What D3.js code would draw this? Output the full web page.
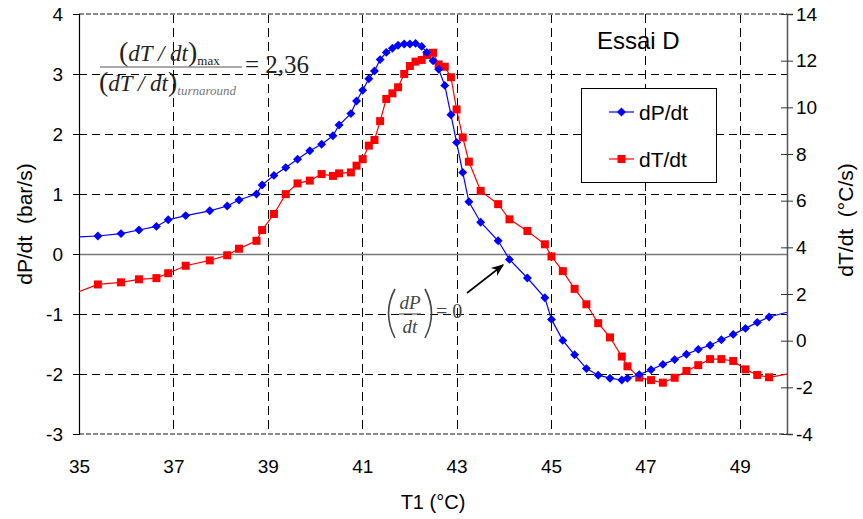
<!DOCTYPE html>
<html><head><meta charset="utf-8">
<script src="https://cdn.jsdelivr.net/npm/d3@7"></script>
<style>body{margin:0;background:#fff}svg{display:block}</style>
</head><body>
<svg id="c" width="863" height="519"></svg>
<script>
// ---- data ----
const T1 = [34.9, 35.40, 35.89, 36.27, 36.64, 36.89, 37.26, 37.77, 38.14, 38.39, 38.76, 38.88, 39.13, 39.38, 39.63, 39.89, 40.14, 40.38, 40.51, 40.76, 40.88, 41.01, 41.14, 41.26, 41.38, 41.51, 41.64, 41.76, 41.89, 42.01, 42.13, 42.26, 42.37, 42.50, 42.62, 42.75, 42.88, 43.00, 43.13, 43.26, 43.51, 43.88, 44.12, 44.50, 44.87, 45.01, 45.25, 45.50, 45.75, 46.00, 46.25, 46.50, 46.62, 46.87, 47.12, 47.37, 47.62, 47.87, 48.12, 48.37, 48.61, 48.86, 49.12, 49.37, 49.62, 50.1];
const dPdt = [0.28, 0.30, 0.34, 0.40, 0.46, 0.57, 0.64, 0.72, 0.80, 0.90, 1.00, 1.15, 1.31, 1.44, 1.58, 1.72, 1.83, 1.97, 2.15, 2.34, 2.55, 2.73, 2.92, 3.05, 3.24, 3.36, 3.43, 3.48, 3.50, 3.50, 3.51, 3.46, 3.36, 3.22, 3.08, 2.81, 2.32, 1.86, 1.36, 0.87, 0.53, 0.22, -0.09, -0.40, -0.73, -1.09, -1.44, -1.68, -1.91, -2.02, -2.07, -2.10, -2.07, -2.01, -1.93, -1.84, -1.76, -1.67, -1.59, -1.52, -1.43, -1.34, -1.24, -1.14, -1.05, -0.95];
const dTdt = [2.02, 2.41, 2.50, 2.63, 2.68, 2.89, 3.21, 3.44, 3.66, 3.94, 4.28, 4.74, 5.43, 6.28, 6.74, 6.86, 7.14, 7.06, 7.17, 7.21, 7.50, 7.78, 8.36, 8.60, 9.41, 10.36, 10.60, 10.86, 11.43, 11.77, 11.96, 12.03, 12.24, 12.34, 11.84, 11.74, 11.29, 9.91, 8.71, 7.67, 6.42, 5.85, 5.20, 4.70, 4.13, 3.61, 2.98, 2.22, 1.56, 0.75, 0.14, -0.68, -1.10, -1.58, -1.69, -1.80, -1.59, -1.30, -1.05, -0.79, -0.79, -0.87, -1.23, -1.47, -1.57, -1.40];
const xTicks = [35, 37, 39, 41, 43, 45, 47, 49];
const yLeftTicks = [-3, -2, -1, 0, 1, 2, 3, 4];
const yRightTicks = [-4, -2, 0, 2, 4, 6, 8, 10, 12, 14];
const seriesNames = ["dP/dt", "dT/dt"];
const xTitle = "T1 (°C)";
const yLeftTitle = "dP/dt  (bar/s)";
const yRightTitle = "dT/dt  (°C/s)";
const chartNote = "Essai D";

// ---- layout ----
const L = 79, R = 787, Tp = 14, B = 434;
const FONT = "'Liberation Sans', Arial, sans-serif";
const SERIF = "'Liberation Serif', 'Times New Roman', serif";
const svg = d3.select("#c");
const x = d3.scaleLinear().domain([35, 50]).range([L, R]);
const yL = d3.scaleLinear().domain([-3, 4]).range([B, Tp]);
const yR = d3.scaleLinear().domain([-4, 14]).range([B, Tp]);
const fmt = d => String(d);

svg.append("defs").append("clipPath").attr("id", "clip")
  .append("rect").attr("x", L).attr("y", Tp).attr("width", R - L).attr("height", B - Tp);

// grid
const grid = svg.append("g");
grid.selectAll(".vg").data(xTicks.filter(d => d > 35)).join("line")
  .attr("x1", d => Math.round(x(d)) + 0.5).attr("x2", d => Math.round(x(d)) + 0.5)
  .attr("y1", Tp).attr("y2", B)
  .attr("stroke", "#000").attr("stroke-dasharray", "9,5").attr("stroke-width", 1);
grid.selectAll(".hg").data(yLeftTicks.filter(d => d > -3 && d < 4 && d !== 0)).join("line")
  .attr("x1", L).attr("x2", R)
  .attr("y1", d => Math.round(yL(d)) + 0.5).attr("y2", d => Math.round(yL(d)) + 0.5)
  .attr("stroke", "#000").attr("stroke-dasharray", "8,5").attr("stroke-width", 1);
[4, -3].forEach(v => {
  grid.append("line").attr("x1", L).attr("x2", R)
    .attr("y1", yL(v)).attr("y2", yL(v))
    .attr("stroke", "#8a8a8a").attr("stroke-width", 2).attr("stroke-dasharray", "5,2");
});
grid.append("line").attr("x1", L).attr("x2", R)
  .attr("y1", Math.round(yL(0)) + 0.5).attr("y2", Math.round(yL(0)) + 0.5)
  .attr("stroke", "#777").attr("stroke-width", 1.5);

// axes
const axL = svg.append("g").attr("transform", `translate(${L},0)`)
  .call(d3.axisLeft(yL).tickValues(yLeftTicks).tickSize(6).tickPadding(10).tickFormat(fmt));
axL.select(".domain").attr("stroke", "#000").attr("stroke-width", 1.2);
axL.selectAll("text").attr("font-family", FONT).attr("font-size", 19).attr("fill", "#000");

const axR = svg.append("g").attr("transform", `translate(${R},0)`)
  .call(d3.axisRight(yR).tickValues(yRightTicks).tickSize(6).tickPadding(3).tickFormat(fmt));
axR.select(".domain").attr("stroke", "#555").attr("stroke-width", 1.5);
axR.selectAll(".tick line").attr("x1", -6).attr("stroke", "#333");
axR.selectAll("text").attr("font-family", FONT).attr("font-size", 19).attr("fill", "#000");

const axB = svg.append("g").attr("transform", `translate(0,${B})`)
  .call(d3.axisBottom(x).tickValues(xTicks).tickSize(0).tickPadding(26).tickFormat(fmt));
axB.select(".domain").remove();
axB.selectAll("text").attr("font-family", FONT).attr("font-size", 19).attr("fill", "#000");

// titles
svg.append("text").attr("x", 433).attr("y", 509).attr("text-anchor", "middle")
  .attr("font-family", FONT).attr("font-size", 20).text(xTitle);
svg.append("text").attr("transform", "translate(32,224) rotate(-90)").attr("text-anchor", "middle")
  .attr("font-family", FONT).attr("font-size", 21).style("white-space", "pre").text(yLeftTitle);
svg.append("text").attr("transform", "translate(853,220) rotate(-90)").attr("text-anchor", "middle")
  .attr("font-family", FONT).attr("font-size", 21).style("white-space", "pre").text(yRightTitle);
svg.append("text").attr("x", 597).attr("y", 49)
  .attr("font-family", FONT).attr("font-size", 24).text(chartNote);

// series
const plot = svg.append("g").attr("clip-path", "url(#clip)");
const blueData = T1.map((t, i) => [t, dPdt[i]]);
const redData = T1.map((t, i) => [t, dTdt[i]]);
plot.append("path").datum(blueData)
  .attr("d", d3.line().x(d => x(d[0])).y(d => yL(d[1])))
  .attr("fill", "none").attr("stroke", "#0000ff").attr("stroke-width", 1.2);
plot.append("path").datum(redData)
  .attr("d", d3.line().x(d => x(d[0])).y(d => yR(d[1])))
  .attr("fill", "none").attr("stroke", "#ff0000").attr("stroke-width", 1.2);
const sq = d3.symbol().type(d3.symbolSquare).size(64);
const dm = d3.symbol().type(d3.symbolSquare).size(40);
plot.selectAll(".rm").data(redData).join("path")
  .attr("transform", d => `translate(${x(d[0])},${yR(d[1])})`)
  .attr("d", sq).attr("fill", "#ff0000");
plot.selectAll(".bm").data(blueData).join("path")
  .attr("transform", d => `translate(${x(d[0])},${yL(d[1])}) rotate(45)`)
  .attr("d", dm).attr("fill", "#0000ff");

// legend
const lg = svg.append("g");
lg.append("rect").attr("x", 581.5).attr("y", 88.5).attr("width", 135).attr("height", 94)
  .attr("fill", "#fff").attr("stroke", "#000").attr("stroke-width", 1);
const legendItems = [
  { name: seriesNames[0], color: "#0000ff", sym: dm, rot: 45, y: 112 },
  { name: seriesNames[1], color: "#ff0000", sym: sq, rot: 0, y: 159 }
];
legendItems.forEach(it => {
  lg.append("line").attr("x1", 609).attr("x2", 634).attr("y1", it.y).attr("y2", it.y)
    .attr("stroke", it.color).attr("stroke-width", 1.2);
  lg.append("path").attr("transform", `translate(621.5,${it.y}) rotate(${it.rot})`).attr("d", it.sym).attr("fill", it.color);
  lg.append("text").attr("x", 639).attr("y", it.y + 7.5)
    .attr("font-family", FONT).attr("font-size", 21).text(it.name);
});

// formula annotation 1
const f = svg.append("g").attr("fill", "#222").attr("font-family", SERIF);
const num = f.append("text").attr("x", 119).attr("y", 61).attr("font-size", 23);
num.append("tspan").attr("font-size", 28).text("(");
num.append("tspan").attr("font-style", "italic").text("dT / dt");
num.append("tspan").attr("font-size", 28).text(")");
num.append("tspan").attr("font-size", 13).attr("dy", 4).text("max");
f.append("line").attr("x1", 100).attr("x2", 242).attr("y1", 67).attr("y2", 67).attr("stroke", "#555").attr("stroke-width", 1);
const den = f.append("text").attr("x", 99).attr("y", 91).attr("font-size", 23);
den.append("tspan").attr("font-size", 28).text("(");
den.append("tspan").attr("font-style", "italic").text("dT / dt");
den.append("tspan").attr("font-size", 28).text(")");
den.append("tspan").attr("font-size", 13).attr("font-style", "italic").attr("fill", "#777").attr("dy", 4).text("turnaround");
f.append("text").attr("x", 245).attr("y", 73).attr("font-size", 25).text("= 2,36");

// formula annotation 2
const g2 = svg.append("g").attr("fill", "#444").attr("font-family", SERIF);
g2.append("path").attr("d", "M395,289 Q382,313 395,338").attr("fill", "none").attr("stroke", "#444").attr("stroke-width", 1.6);
g2.append("path").attr("d", "M425,289 Q438,313 425,338").attr("fill", "none").attr("stroke", "#444").attr("stroke-width", 1.6);
g2.append("text").attr("x", 410).attr("y", 309).attr("text-anchor", "middle").attr("font-size", 19).attr("font-style", "italic").text("dP");
g2.append("line").attr("x1", 399).attr("x2", 421).attr("y1", 314).attr("y2", 314).attr("stroke", "#444").attr("stroke-width", 1);
g2.append("text").attr("x", 410).attr("y", 333).attr("text-anchor", "middle").attr("font-size", 19).attr("font-style", "italic").text("dt");
g2.append("text").attr("x", 436).attr("y", 318).attr("font-size", 20).style("white-space", "pre").text("= 0");

// arrow
svg.append("defs").append("marker").attr("id", "ah").attr("viewBox", "0 0 10 10")
  .attr("refX", 9).attr("refY", 5).attr("markerWidth", 8).attr("markerHeight", 8).attr("orient", "auto")
  .append("path").attr("d", "M0,1 L10,5 L0,9 L3,5 Z").attr("fill", "#000");
svg.append("line").attr("x1", 467).attr("y1", 293).attr("x2", 503).attr("y2", 265)
  .attr("stroke", "#000").attr("stroke-width", 1.6).attr("marker-end", "url(#ah)");
</script>
</body></html>
